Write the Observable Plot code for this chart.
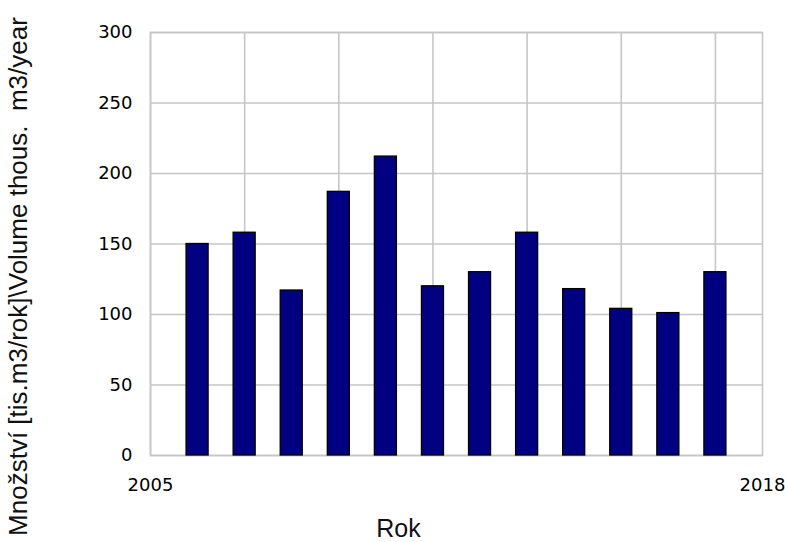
<!DOCTYPE html>
<html>
<head>
<meta charset="utf-8">
<script src="https://cdn.jsdelivr.net/npm/d3@7"></script>
<script src="https://cdn.jsdelivr.net/npm/@observablehq/plot@0.6"></script>
<style>
  html, body { margin: 0; padding: 0; background: #fff; }
  #chart svg { display: block; }
</style>
</head>
<body>
<div id="chart"></div>
<script>
const years = [2006, 2007, 2008, 2009, 2010, 2011, 2012, 2013, 2014, 2015, 2016, 2017];
const volumes = [150, 158, 117, 187, 212, 120, 130, 158, 118, 104, 101, 130];
const yTicks = [0, 50, 100, 150, 200, 250, 300];
const xTickLabels = [2005, 2018];
const xGridYears = [2005, 2007, 2009, 2011, 2013, 2015, 2017];
const yTitle = "Množství [tis.m3/rok]\\Volume thous.  m3/year";
const xTitle = "Rok";

const data = years.map((year, i) => ({year, value: volumes[i]}));
const halfBar = 0.234;
const gridColor = "#c6c6c6";

const chart = Plot.plot({
  width: 785,
  height: 542,
  marginLeft: 150,
  marginRight: 23,
  marginTop: 32,
  marginBottom: 87,
  style: {background: "#fff", color: "#000"},
  x: {type: "linear", domain: [2005, 2018]},
  y: {domain: [0, 300]},
  marks: [
    Plot.ruleY(yTicks, {stroke: gridColor, strokeWidth: 1.6}),
    Plot.ruleX(xGridYears, {stroke: gridColor, strokeWidth: 1.6}),
    Plot.frame({stroke: gridColor, strokeWidth: 1.6}),
    Plot.rectY(data, {
      x1: d => d.year - halfBar,
      x2: d => d.year + halfBar,
      y: "value",
      fill: "#000080",
      stroke: "#000",
      strokeWidth: 1.3
    }),
    Plot.axisY({ticks: yTicks, tickSize: 0, tickPadding: 18, label: null,
      fontFamily: "DejaVu Sans", fontSize: 18, fill: "#000"}),
    Plot.axisX({ticks: xTickLabels, tickSize: 0, tickPadding: 23, label: null,
      tickFormat: d => String(d), fontFamily: "DejaVu Sans", fontSize: 18, fill: "#000"}),
    Plot.text([yTitle], {
      frameAnchor: "left", rotate: -90, dx: -131.5, dy: 32.5,
      lineAnchor: "middle", textAnchor: "middle",
      fontFamily: "Liberation Sans", fontSize: 26, fill: "#111"
    }),
    Plot.text([xTitle], {
      frameAnchor: "bottom", dx: -58, dy: 81,
      lineAnchor: "bottom", textAnchor: "middle",
      fontFamily: "Liberation Sans", fontSize: 25, fill: "#111"
    })
  ]
});
document.getElementById("chart").appendChild(chart);
</script>
</body>
</html>
